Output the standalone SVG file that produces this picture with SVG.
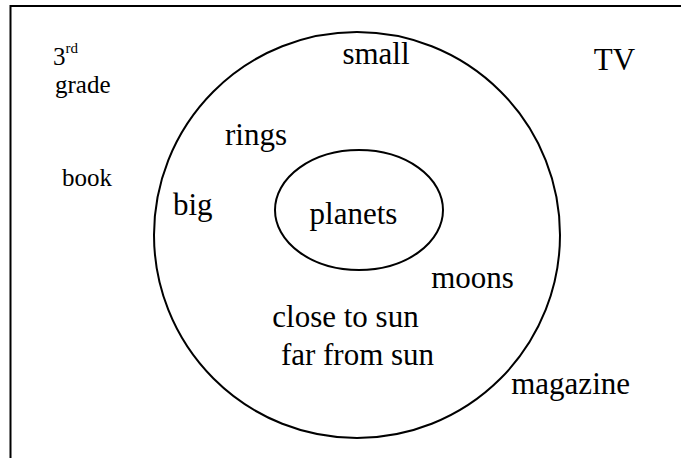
<svg xmlns="http://www.w3.org/2000/svg" width="681" height="458" viewBox="0 0 681 458">
<style>
.t{font-family:"Liberation Serif","Times New Roman",serif;fill:#000}
.b{font-size:31px}
.s{font-size:25px}
.ln{fill:none;stroke:#000;stroke-width:2}
</style>
<rect width="681" height="458" fill="#fff"/>
<g id="frame"><path class="ln" d="M10.5,470 V6 H690"/></g>
<g id="outer"><circle class="ln" cx="357" cy="235" r="203"/></g>
<g id="inner"><ellipse class="ln" cx="359" cy="210" rx="84" ry="60"/><text class="t b" x="353.5" y="224" text-anchor="middle">planets</text></g>
<g id="labels">
<text class="t s" x="53" y="65">3<tspan font-size="15" dy="-12">rd</tspan></text>
<text class="t s" x="55" y="93">grade</text>
<text class="t s" x="62" y="186" font-size="24.5">book</text>
<text class="t b" x="376" y="64" text-anchor="middle">small</text>
<text class="t b" x="614.5" y="70" text-anchor="middle">TV</text>
<text class="t b" x="256" y="145" text-anchor="middle">rings</text>
<text class="t b" x="173" y="215">big</text>
<text class="t b" x="472.5" y="288" text-anchor="middle">moons</text>
<text class="t b" x="345.5" y="327" text-anchor="middle">close to sun</text>
<text class="t b" x="357.5" y="365" text-anchor="middle">far from sun</text>
<text class="t b" x="630" y="394" text-anchor="end">magazine</text>
</g>
</svg>
